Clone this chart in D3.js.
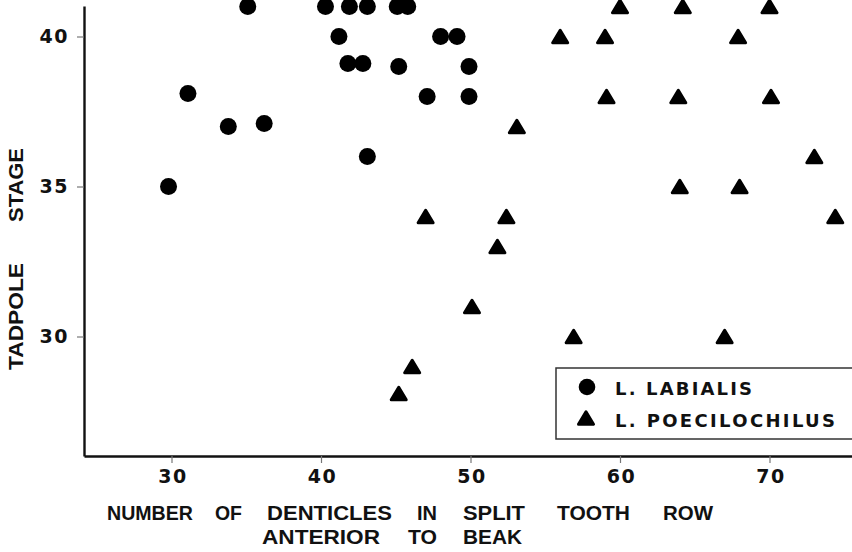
<!DOCTYPE html>
<html><head><meta charset="utf-8">
<script src="https://cdn.jsdelivr.net/npm/d3@7"></script>
<style>body{margin:0;background:#fff}</style>
</head><body>
<svg id="c" width="852" height="552"></svg>
<script>
// ---- data ----
const xTicks = [30, 40, 50, 60, 70];
const yTicks = [30, 35, 40];
const seriesNames = ["L. LABIALIS", "L. POECILOCHILUS"];
const xTitleLine1 = ["NUMBER", "OF", "DENTICLES", "IN", "SPLIT", "TOOTH", "ROW"];
const xTitleLine2 = ["ANTERIOR", "TO", "BEAK"];
const yTitleWords = ["TADPOLE", "STAGE"];

const labialisX = [29.8, 31.1, 33.8, 36.2, 35.1, 40.3, 41.9, 43.1, 45.8, 45.1, 41.2, 48.0, 49.1, 41.8, 42.8, 45.2, 49.9, 47.1, 49.9, 43.1];
const labialisY = [35, 38.1, 37, 37.1, 41, 41, 41, 41, 41, 41, 40, 40, 40, 39.1, 39.1, 39, 39, 38, 38, 36];

const poecX = [56, 53.1, 47, 52.4, 51.8, 60, 64.2, 70, 59, 67.9, 59.1, 63.9, 70.1, 73, 64, 68, 74.4, 50.1, 56.9, 46.1, 45.2, 67];
const poecY = [40, 37, 34, 34, 33, 41, 41, 41, 40, 40, 38, 38, 38, 36, 35, 35, 34, 31, 30, 29, 28.1, 30];

// ---- drawing ----
const svg = d3.select("#c");
svg.append("rect").attr("width", 852).attr("height", 552).attr("fill", "#fff");

const x = d3.scaleLinear().domain([30, 70]).range([171.5, 769.5]);
x.domain([x.invert(84), x.invert(852)]).range([84, 852]);
const y = d3.scaleLinear().domain([30, 40]).range([336.5, 36.5]);
y.domain([y.invert(456), y.invert(6)]).range([456, 6]);

const tickFont = g => g.selectAll(".tick text")
  .attr("font-family", "DejaVu Sans").attr("font-weight", "bold")
  .attr("font-size", 19).attr("fill", "#111").attr("letter-spacing", 1.5);

const gx = svg.append("g").attr("transform", "translate(0,456)")
  .call(d3.axisBottom(x).tickValues(xTicks).tickSize(7).tickSizeOuter(0).tickPadding(7).tickFormat(d3.format("d")));
gx.select(".domain").attr("stroke", "#111").attr("stroke-width", 2.4);
gx.selectAll(".tick line").attr("stroke", "#777").attr("stroke-width", 1.2);
tickFont(gx);
gx.selectAll(".tick text").attr("dx", 1);

const gy = svg.append("g").attr("transform", "translate(84,0)")
  .call(d3.axisLeft(y).tickValues(yTicks).tickSize(7).tickSizeOuter(0).tickPadding(8).tickFormat(d3.format("d")));
gy.select(".domain").attr("stroke", "#111").attr("stroke-width", 2.4);
gy.selectAll(".tick line").attr("stroke", "#777").attr("stroke-width", 1.2);
tickFont(gy);

// triangle marker path (bbox centered at 0,0)
const tri = (s, h) => `M0,${-h/2}L${s/2},${h/2}L${-s/2},${h/2}Z`;

const labialis = labialisX.map((v, i) => ({x: v, y: labialisY[i]}));
const poec = poecX.map((v, i) => ({x: v, y: poecY[i]}));

svg.append("g").selectAll("circle").data(labialis).join("circle")
  .attr("cx", d => x(d.x)).attr("cy", d => y(d.y)).attr("r", 8.5)
  .attr("fill", "#000");

svg.append("g").selectAll("path").data(poec).join("path")
  .attr("transform", d => `translate(${x(d.x)},${y(d.y)})`)
  .attr("d", tri(15, 12.5))
  .attr("fill", "#000").attr("stroke", "#000").attr("stroke-width", 3)
  .attr("stroke-linejoin", "round");

// legend
const lg = svg.append("g");
lg.append("rect").attr("x", 556).attr("y", 368).attr("width", 310).attr("height", 71)
  .attr("fill", "#fff").attr("stroke", "#333").attr("stroke-width", 1.5);
lg.append("circle").attr("cx", 587).attr("cy", 387).attr("r", 8.3).attr("fill", "#000");
lg.append("path").attr("transform", "translate(586,418)").attr("d", tri(15, 12.5))
  .attr("fill", "#000").attr("stroke", "#000").attr("stroke-width", 3).attr("stroke-linejoin", "round");
const legW = [137, 220];
seriesNames.forEach((n, i) => {
  lg.append("text").attr("x", 615).attr("y", 395 + i * 32).text(n)
    .attr("font-family", "DejaVu Sans").attr("font-weight", "bold").attr("font-size", 18)
    .attr("fill", "#111").attr("textLength", legW[i]).attr("lengthAdjust", "spacing");
});

// axis titles
const titleFont = sel => sel.attr("font-family", "Liberation Sans").attr("font-weight", "bold")
  .attr("font-size", 21).attr("fill", "#111").attr("lengthAdjust", "spacingAndGlyphs");
const line1Pos = [[107, 86], [215, 27], [267, 125], [417, 20], [463, 62], [557, 73], [663, 50]];
const line2Pos = [[262, 118], [408, 29], [463, 59]];
xTitleLine1.forEach((w, i) => svg.append("text").attr("x", line1Pos[i][0]).attr("y", 520)
  .attr("textLength", line1Pos[i][1]).text(w).call(titleFont));
xTitleLine2.forEach((w, i) => svg.append("text").attr("x", line2Pos[i][0]).attr("y", 544)
  .attr("textLength", line2Pos[i][1]).text(w).call(titleFont));

const yPos = [[316.5, 107], [185, 74]];
yTitleWords.forEach((w, i) => svg.append("text")
  .attr("transform", `translate(23,${yPos[i][0]}) rotate(-90)`)
  .attr("text-anchor", "middle").attr("textLength", yPos[i][1]).text(w).call(titleFont));
</script>
</body></html>
